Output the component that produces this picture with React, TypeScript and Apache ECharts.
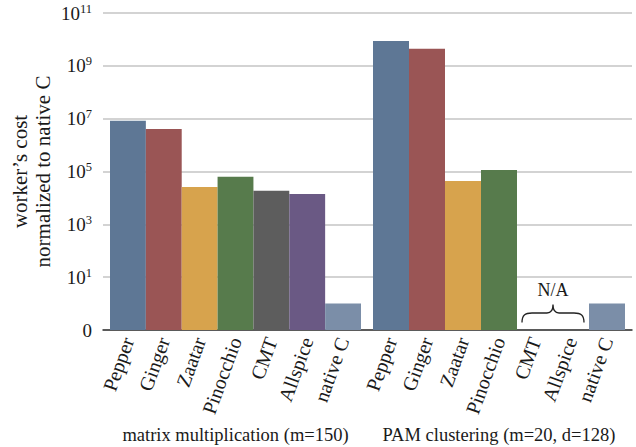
import React, { useEffect, useRef } from "react";
import * as echarts from "echarts";

const categories = ["Pepper", "Ginger", "Zaatar", "Pinocchio", "CMT", "Allspice", "native C"];
const matrixValues = [8.3e6, 4.1e6, 2.6e4, 6.3e4, 1.85e4, 1.4e4, 1];
const pamValues: (number | null)[] = [8.7e9, 4.4e9, 4.4e4, 1.15e5, null, null, 1];
const barColors = ["#5e7795", "#9a5555", "#d7a34d", "#577b4c", "#5d5d5d", "#6a5984", "#7b8ea8"];
const groupTitles = ["matrix multiplication (m=150)", "PAM clustering (m=20, d=128)"];
const naCategories = ["CMT", "Allspice"];
const naLabel = "N/A";
const yTitle = "worker\u2019s cost\nnormalized to native C";
const yMin = 0.1;
const yMax = 1e11;
const yInterval = 2;

const FONT = "'Liberation Serif', 'DejaVu Serif', serif";
const TEXT = "#1a1a1a";

export default function App() {
  const ref = useRef<HTMLDivElement>(null);

  useEffect(() => {
    if (!ref.current) return;
    const chart = echarts.init(ref.current, null, { renderer: "svg" });

    const logAxisBase = {
      type: "log" as const,
      logBase: 10,
      min: yMin,
      max: yMax,
      interval: yInterval,
      startValue: yMin,
    };

    const catAxis = (gridIndex: number, title: string) => ({
      type: "category" as const,
      gridIndex,
      data: categories,
      boundaryGap: true,
      axisLine: { show: false },
      axisTick: { show: false },
      axisLabel: {
        rotate: 70,
        margin: 8,
        interval: 0,
        fontFamily: FONT,
        fontSize: 20,
        color: TEXT,
      },
      name: title,
      nameLocation: "middle" as const,
      nameGap: 95,
      nameMoveOverlap: false,
      nameTextStyle: { fontFamily: FONT, fontSize: 18.5, color: TEXT },
    });

    const barData = (vals: (number | null)[]) =>
      vals.map((v, i) => ({ value: v, itemStyle: { color: barColors[i] } }));

    const naIdx = naCategories.map((c) => categories.indexOf(c));

    const hiddenY = (gridIndex: number) => ({
      ...logAxisBase,
      gridIndex,
      axisLine: { show: false },
      axisTick: { show: false },
      axisLabel: { show: false },
      splitLine: { show: false },
    });

    const gridCommon = { top: 13, bottom: 117, containLabel: false, outerBoundsMode: "none" };

    const option: any = {
      animation: false,
      grid: [
        { ...gridCommon, left: 103, right: 4 },
        { ...gridCommon, left: 110, width: 251 },
        { ...gridCommon, left: 373, width: 252 },
      ],
      xAxis: [
        {
          type: "value",
          gridIndex: 0,
          min: 0,
          max: 1,
          axisLabel: { show: false },
          axisTick: { show: false },
          splitLine: { show: false },
          axisLine: { show: true, lineStyle: { color: "#333", width: 1.5 } },
        },
        catAxis(1, groupTitles[0]),
        catAxis(2, groupTitles[1]),
      ],
      yAxis: [
        {
          ...logAxisBase,
          gridIndex: 0,
          axisLine: { show: false },
          axisTick: { show: false },
          splitLine: { show: true, lineStyle: { color: "#c4c4c4", width: 1.5 } },
          axisLabel: {
            margin: 11,
            fontFamily: FONT,
            color: TEXT,
            formatter: (v: number) => {
              const e = Math.round(Math.log10(v));
              if (e <= -1) return "{b|0}";
              return "{b|10}{s|" + e + "}";
            },
            rich: {
              b: { fontFamily: FONT, fontSize: 19, lineHeight: 22, color: TEXT },
              s: { fontFamily: FONT, fontSize: 12.5, lineHeight: 13, verticalAlign: "top", color: TEXT },
            },
          },
          name: yTitle,
          nameLocation: "middle",
          nameRotate: 90,
          nameGap: 49,
          nameMoveOverlap: false,
          nameTextStyle: { fontFamily: FONT, fontSize: 21, lineHeight: 23, color: TEXT },
        },
        hiddenY(1),
        hiddenY(2),
      ],
      series: [
        {
          type: "bar",
          xAxisIndex: 1,
          yAxisIndex: 1,
          barCategoryGap: "0%",
          data: barData(matrixValues),
        },
        {
          type: "bar",
          xAxisIndex: 2,
          yAxisIndex: 2,
          barCategoryGap: "0%",
          data: barData(pamValues),
        },
        {
          type: "custom",
          xAxisIndex: 2,
          yAxisIndex: 2,
          data: [[naIdx[0], 1]],
          renderItem: (params: any, api: any) => {
            const p4 = api.coord([naIdx[0], yMin]);
            const p5 = api.coord([naIdx[1], yMin]);
            const bw = api.size([1, 1])[0];
            const left = p4[0] - bw / 2 + 5;
            const right = p5[0] + bw / 2 - 5;
            const mid = (p4[0] + p5[0]) / 2;
            const yb = p4[1] - 7.5;
            const h = yb - 9.5;
            const tip = yb - 18;
            const d =
              `M${left} ${yb} C${left} ${h + 2} ${left + 3} ${h} ${left + 10} ${h} ` +
              `L${mid - 6} ${h} C${mid - 2} ${h} ${mid} ${h - 2} ${mid} ${tip} ` +
              `C${mid} ${h - 2} ${mid + 2} ${h} ${mid + 6} ${h} ` +
              `L${right - 10} ${h} C${right - 3} ${h} ${right} ${h + 2} ${right} ${yb}`;
            return {
              type: "group",
              children: [
                {
                  type: "path",
                  shape: { pathData: d },
                  style: { fill: "none", stroke: "#222", lineWidth: 1.3 },
                },
                {
                  type: "text",
                  x: mid,
                  y: yb - 33,
                  style: {
                    text: naLabel,
                    align: "center",
                    verticalAlign: "middle",
                    fontFamily: FONT,
                    fontSize: 18,
                    fill: TEXT,
                  },
                },
              ],
            };
          },
        },
      ],
    };

    chart.setOption(option);
    return () => chart.dispose();
  }, []);

  return (
    <div
      ref={ref}
      style={{ position: "fixed", left: 0, top: 0, width: 636, height: 447, background: "#fff" }}
    />
  );
}
